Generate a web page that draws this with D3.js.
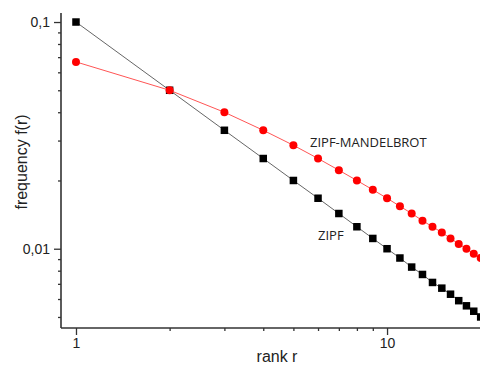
<!DOCTYPE html>
<html>
<head>
<meta charset="utf-8">
<script src="https://cdn.jsdelivr.net/npm/d3@7"></script>
<style>
  body { margin: 0; background: #fff; }
  svg { display: block; }
</style>
</head>
<body>
<div id="chart"></div>
<script>
// ranks r = 1..20
const ranks = [1, 2, 3, 4, 5, 6, 7, 8, 9, 10, 11, 12, 13, 14, 15, 16, 17, 18, 19, 20];

// values
const zipf = [0.1, 0.05, 0.0333, 0.025, 0.02, 0.0167, 0.0143, 0.0125, 0.0111, 0.01,
              0.0091, 0.0083, 0.0077, 0.0071, 0.0067, 0.0063, 0.0059, 0.0056, 0.0053, 0.005];
const mandelbrot = [0.0667, 0.05, 0.04, 0.0333, 0.0286, 0.025, 0.0222, 0.02, 0.0182, 0.0167,
                    0.0154, 0.0143, 0.0133, 0.0125, 0.0118, 0.0111, 0.0105, 0.01, 0.0095, 0.0091];

const xTicks = [1, 10];
const xTickLabels = ["1", "10"];
const yTicks = [0.01, 0.1];
const yTickLabels = ["0,01", "0,1"];

const width = 480, height = 367;

const svg = d3.select("#chart").append("svg")
    .attr("width", width)
    .attr("height", height);

const x = d3.scaleLog().domain([0.895, 19.9]).range([61, 480]);
const y = d3.scaleLog().domain([0.00447, 0.1096]).range([328, 13]);

const axisColor = "#333";
const tickFont = "14px 'Liberation Sans', Arial, sans-serif";
const isMajor = (list, d) => list.some(t => Math.abs(t - d) < 1e-9);

// x axis
const xAxis = d3.axisBottom(x)
    .tickValues(x.ticks().filter(d => d >= 1))
    .tickSize(3)
    .tickFormat(d => { const i = xTicks.indexOf(d); return i >= 0 ? xTickLabels[i] : ""; });
const gx = svg.append("g").attr("transform", `translate(0,${y.range()[0]})`).call(xAxis);
gx.select(".domain").attr("stroke", axisColor).attr("stroke-width", 1.6)
    .attr("d", `M${x.range()[0]},0H${x.range()[1]}`);
gx.selectAll(".tick line").attr("stroke", axisColor).attr("stroke-width", 1.3)
    .attr("y2", d => isMajor(xTicks, d) ? 7 : 3);
gx.selectAll(".tick text")
    .attr("y", 10)
    .attr("fill", "#222")
    .style("font", tickFont);

// y axis
const yAxis = d3.axisLeft(y)
    .tickValues(y.ticks().filter(d => d >= 0.005 && d <= 0.1))
    .tickSize(3)
    .tickFormat(d => { const i = yTicks.findIndex(t => Math.abs(t - d) < 1e-9); return i >= 0 ? yTickLabels[i] : ""; });
const gy = svg.append("g").attr("transform", `translate(${x.range()[0]},0)`).call(yAxis);
gy.select(".domain").attr("stroke", axisColor).attr("stroke-width", 1.6)
    .attr("d", `M0,${y.range()[1]}V${y.range()[0]}`);
gy.selectAll(".tick line").attr("stroke", axisColor).attr("stroke-width", 1.3)
    .attr("x2", d => isMajor(yTicks, d) ? -7 : -3);
gy.selectAll(".tick text")
    .attr("x", -11)
    .attr("fill", "#222")
    .style("font", tickFont);

// axis titles
svg.append("text")
    .attr("x", 277).attr("y", 362)
    .attr("text-anchor", "middle")
    .attr("fill", "#222")
    .style("font", "16px 'Liberation Sans', Arial, sans-serif")
    .text("rank r");

svg.append("text")
    .attr("transform", "translate(27,162) rotate(-90)")
    .attr("text-anchor", "middle")
    .attr("fill", "#222")
    .style("font", "16px 'Liberation Sans', Arial, sans-serif")
    .text("frequency f(r)");

const plot = svg.append("g");

const line = d3.line()
    .x((d, i) => x(ranks[i]))
    .y(d => y(d));

// Zipf
plot.append("path")
    .datum(zipf)
    .attr("fill", "none")
    .attr("stroke", "#666")
    .attr("stroke-width", 1)
    .attr("d", line);
plot.append("g").selectAll("rect")
    .data(zipf)
    .join("rect")
    .attr("x", (d, i) => x(ranks[i]) - 3.75)
    .attr("y", d => y(d) - 3.75)
    .attr("width", 7.5)
    .attr("height", 7.5)
    .attr("fill", "#000");

// Zipf-Mandelbrot
plot.append("path")
    .datum(mandelbrot)
    .attr("fill", "none")
    .attr("stroke", "#f55")
    .attr("stroke-width", 1)
    .attr("d", line);
plot.append("g").selectAll("circle")
    .data(mandelbrot)
    .join("circle")
    .attr("cx", (d, i) => x(ranks[i]))
    .attr("cy", d => y(d))
    .attr("r", 4)
    .attr("fill", "#f00");

// series labels
svg.append("text")
    .attr("x", 310).attr("y", 147)
    .attr("fill", "#222")
    .style("font", "13px 'Open Sans', sans-serif")
    .text("ZIPF-MANDELBROT");

svg.append("text")
    .attr("x", 318).attr("y", 240)
    .attr("fill", "#222")
    .style("font", "13px 'Open Sans', sans-serif")
    .text("ZIPF");
</script>
</body>
</html>
